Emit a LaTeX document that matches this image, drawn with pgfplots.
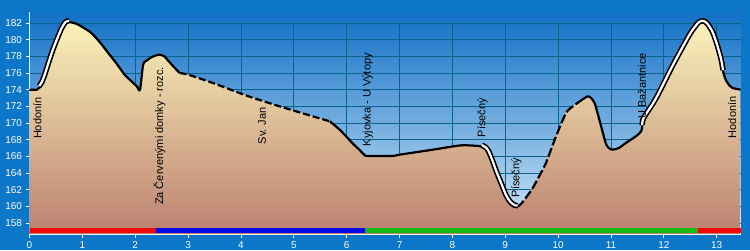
\documentclass[border=0pt]{standalone}
\usepackage{fontspec}
\setmainfont{Liberation Sans}
\usepackage{pgfplots}
\pgfplotsset{compat=1.18}
\definecolor{outerblue}{RGB}{12,118,200}
\definecolor{skytop}{RGB}{18,112,198}
\definecolor{skymid}{RGB}{105,172,226}
\definecolor{skybot}{RGB}{212,234,248}
\definecolor{gridcol}{RGB}{8,100,140}
\definecolor{filltop}{RGB}{250,242,186}
\definecolor{fillmid}{RGB}{224,188,148}
\definecolor{fillbot}{RGB}{188,128,112}
\definecolor{barred}{RGB}{240,8,8}
\definecolor{barblue}{RGB}{8,8,230}
\definecolor{bargreen}{RGB}{20,185,20}
\begin{document}
\begin{tikzpicture}
\fill[outerblue] (-29.5pt,-16pt) rectangle (720.5pt,234pt);
\path[use as bounding box] (-29.5pt,-16pt) rectangle (720.5pt,234pt);
\begin{axis}[
  at={(0pt,0pt)}, anchor=south west,
  scale only axis, width=711pt, height=222pt,
  xmin=0, xmax=13.45, ymin=156.68, ymax=183.32,
  axis x line*=bottom, axis y line*=left,
  axis line style={white, line width=1.2pt, -},
  axis background/.style={top color=skytop, middle color=skymid, bottom color=skybot},
  xtick={0,1,...,13}, ytick={158,160,...,182},
  tick style={white, line width=0.8pt},
  tick align=outside, major tick length=4pt,
  ticklabel style={font=\fontsize{10}{12}\selectfont, text=white},
  /pgf/number format/assume math mode=true,
  clip=false,
  prof/.style={smooth, tension=0.45, line join=round},
]
% grid
\pgfplotsinvokeforeach{1,...,13}{\draw[gridcol, line width=0.8pt] (axis cs:#1,156.68) -- (axis cs:#1,182);}
\pgfplotsinvokeforeach{158,160,...,182}{\draw[gridcol, line width=0.8pt] (axis cs:0,#1) -- (axis cs:13.45,#1);}
% fill
\addplot[prof, draw=none, top color=filltop, middle color=fillmid, bottom color=fillbot] coordinates {
(0,174.0)(0.14,174.0)(0.2,174.3)(0.25,174.8)(0.3,175.6)(0.38,177.2)(0.46,178.7)(0.54,180.0)(0.62,181.2)(0.70,182.0)(0.76,182.1)
(0.89,181.9)(1.03,181.4)(1.17,180.8)(1.33,179.7)(1.49,178.4)(1.65,177.1)(1.80,175.8)(1.93,175.0)(2.03,174.4)(2.09,174.0)
(2.15,177.0)(2.22,177.5)(2.31,177.9)(2.45,178.2)(2.55,178.0)(2.62,177.5)(2.72,176.8)(2.84,176.0)
(3.0,175.8)(3.47,174.8)(4.10,173.3)(4.73,172.0)(5.36,170.8)(5.68,170.2)
(5.85,169.3)(5.99,168.4)(6.12,167.5)(6.24,166.8)(6.33,166.2)(6.40,166.05)(6.87,166.05)(7.0,166.2)(7.63,166.8)(8.13,167.3)(8.35,167.3)(8.54,167.2)
(8.60,167.0)(8.66,166.6)(8.74,165.4)(8.82,164.0)(8.91,162.6)(9.0,161.2)(9.08,160.4)(9.16,160.0)(9.22,159.95)
(9.30,160.3)(9.5,162.0)(9.64,163.6)(9.77,165.2)(9.96,168.4)(10.15,171.2)(10.28,172.0)(10.41,172.6)
(10.56,173.2)(10.62,173.0)(10.69,172.4)(10.78,170.4)(10.9,167.6)(10.96,167.0)(11.03,166.8)(11.15,167.0)(11.28,167.6)(11.47,168.4)(11.57,169.0)(11.59,169.6)
(11.62,170.5)(11.85,172.8)(12.17,176.8)(12.48,180.4)(12.60,181.5)(12.67,182.0)(12.75,182.1)(12.82,181.8)(12.92,180.8)(13.0,179.4)(13.08,177.6)(13.12,176.2)
(13.17,175.2)(13.24,174.5)(13.3,174.2)(13.45,174.0)
} \closedcycle;
% solid line parts
\addplot[prof, black, line width=2.2pt] coordinates {
(0,174.0)(0.14,174.0)(0.2,174.3)(0.25,174.8)(0.3,175.6)(0.38,177.2)(0.46,178.7)(0.54,180.0)(0.62,181.2)(0.70,182.0)(0.76,182.1)
(0.89,181.9)(1.03,181.4)(1.17,180.8)(1.33,179.7)(1.49,178.4)(1.65,177.1)(1.80,175.8)(1.93,175.0)(2.03,174.4)(2.09,174.0)
(2.15,177.0)(2.22,177.5)(2.31,177.9)(2.45,178.2)(2.55,178.0)(2.62,177.5)(2.72,176.8)(2.84,176.0)};
\addplot[prof, black, line width=2.2pt] coordinates {
(5.68,170.2)(5.85,169.3)(5.99,168.4)(6.12,167.5)(6.24,166.8)(6.33,166.2)(6.40,166.05)(6.87,166.05)(7.0,166.2)(7.63,166.8)(8.13,167.3)(8.35,167.3)(8.54,167.2)
(8.60,167.0)(8.66,166.6)(8.74,165.4)(8.82,164.0)(8.91,162.6)(9.0,161.2)(9.08,160.4)(9.16,160.0)(9.22,159.95)};
\addplot[prof, black, line width=2.2pt] coordinates {
(10.41,172.6)(10.56,173.2)(10.62,173.0)(10.69,172.4)(10.78,170.4)(10.9,167.6)(10.96,167.0)(11.03,166.8)(11.15,167.0)(11.28,167.6)(11.47,168.4)(11.57,169.0)(11.59,169.6)
(11.62,170.5)(11.85,172.8)(12.17,176.8)(12.48,180.4)(12.60,181.5)(12.67,182.0)(12.75,182.1)(12.82,181.8)(12.92,180.8)(13.0,179.4)(13.08,177.6)(13.12,176.2)
(13.17,175.2)(13.24,174.5)(13.3,174.2)(13.45,174.0)};
% dashed parts
\addplot[prof, black, line width=2.2pt, dash pattern=on 7pt off 3pt] coordinates {
(2.84,176.0)(3.0,175.8)(3.47,174.8)(4.10,173.3)(4.73,172.0)(5.36,170.8)(5.68,170.2)};
\addplot[prof, black, line width=2.2pt, dash pattern=on 9pt off 3pt] coordinates {
(9.22,159.95)(9.30,160.3)(9.5,162.0)(9.64,163.6)(9.77,165.2)(9.96,168.4)(10.15,171.2)(10.28,172.0)(10.41,172.6)};
% white highlighted parts
\addplot[prof, black, line width=5.5pt, yshift=1.2pt, xshift=-0.8pt] coordinates {
(0.2,174.3)(0.25,174.8)(0.3,175.6)(0.38,177.2)(0.46,178.7)(0.54,180.0)(0.62,181.2)(0.70,182.0)(0.76,182.1)};
\addplot[prof, white, line width=2.2pt, yshift=1.2pt, xshift=-0.8pt] coordinates {
(0.2,174.3)(0.25,174.8)(0.3,175.6)(0.38,177.2)(0.46,178.7)(0.54,180.0)(0.62,181.2)(0.70,182.0)(0.76,182.1)};
\addplot[prof, black, line width=5.5pt, yshift=1.2pt, xshift=0.8pt] coordinates {
(8.54,167.2)(8.60,167.0)(8.66,166.6)(8.74,165.4)(8.82,164.0)(8.91,162.6)(9.0,161.2)(9.08,160.4)(9.16,160.0)(9.22,159.95)};
\addplot[prof, white, line width=2.2pt, yshift=1.2pt, xshift=0.8pt] coordinates {
(8.54,167.2)(8.60,167.0)(8.66,166.6)(8.74,165.4)(8.82,164.0)(8.91,162.6)(9.0,161.2)(9.08,160.4)(9.16,160.0)(9.22,159.95)};
\addplot[prof, black, line width=5.5pt, yshift=1.2pt] coordinates {
(11.59,169.6)(11.62,170.5)(11.85,172.8)(12.17,176.8)(12.48,180.4)(12.60,181.5)(12.67,182.0)(12.75,182.1)(12.82,181.8)(12.92,180.8)(13.0,179.4)(13.08,177.6)(13.12,176.2)};
\addplot[prof, white, line width=2.2pt, yshift=1.2pt] coordinates {
(11.59,169.6)(11.62,170.5)(11.85,172.8)(12.17,176.8)(12.48,180.4)(12.60,181.5)(12.67,182.0)(12.75,182.1)(12.82,181.8)(12.92,180.8)(13.0,179.4)(13.08,177.6)(13.12,176.2)};
% colour bar
\addplot[barred, line width=5pt] coordinates {(0,157.06)(2.4,157.06)};
\addplot[barblue, line width=5pt] coordinates {(2.4,157.06)(6.35,157.06)};
\addplot[bargreen, line width=5pt] coordinates {(6.35,157.06)(12.64,157.06)};
\addplot[barred, line width=5pt] coordinates {(12.64,157.06)(13.45,157.06)};
% labels
\begin{scope}[every node/.style={rotate=90, anchor=east, inner sep=0pt, font=\fontsize{11}{13}\selectfont}]
\node at (axis cs:0.147,173.1) {Hodonín};
\node at (axis cs:2.46,176.7) {Za Červenými domky - rozc.};
\node at (axis cs:4.40,171.9) {Sv. Jan};
\node at (axis cs:6.40,178.4) {Kyjovka - U Výtopy};
\node at (axis cs:8.57,173.0) {Písečný};
\node at (axis cs:9.21,165.8) {Písečný};
\node at (axis cs:11.585,178.4) {U Bažantnice};
\node at (axis cs:13.29,173.2) {Hodonín};
\end{scope}
\end{axis}
\end{tikzpicture}
\end{document}
